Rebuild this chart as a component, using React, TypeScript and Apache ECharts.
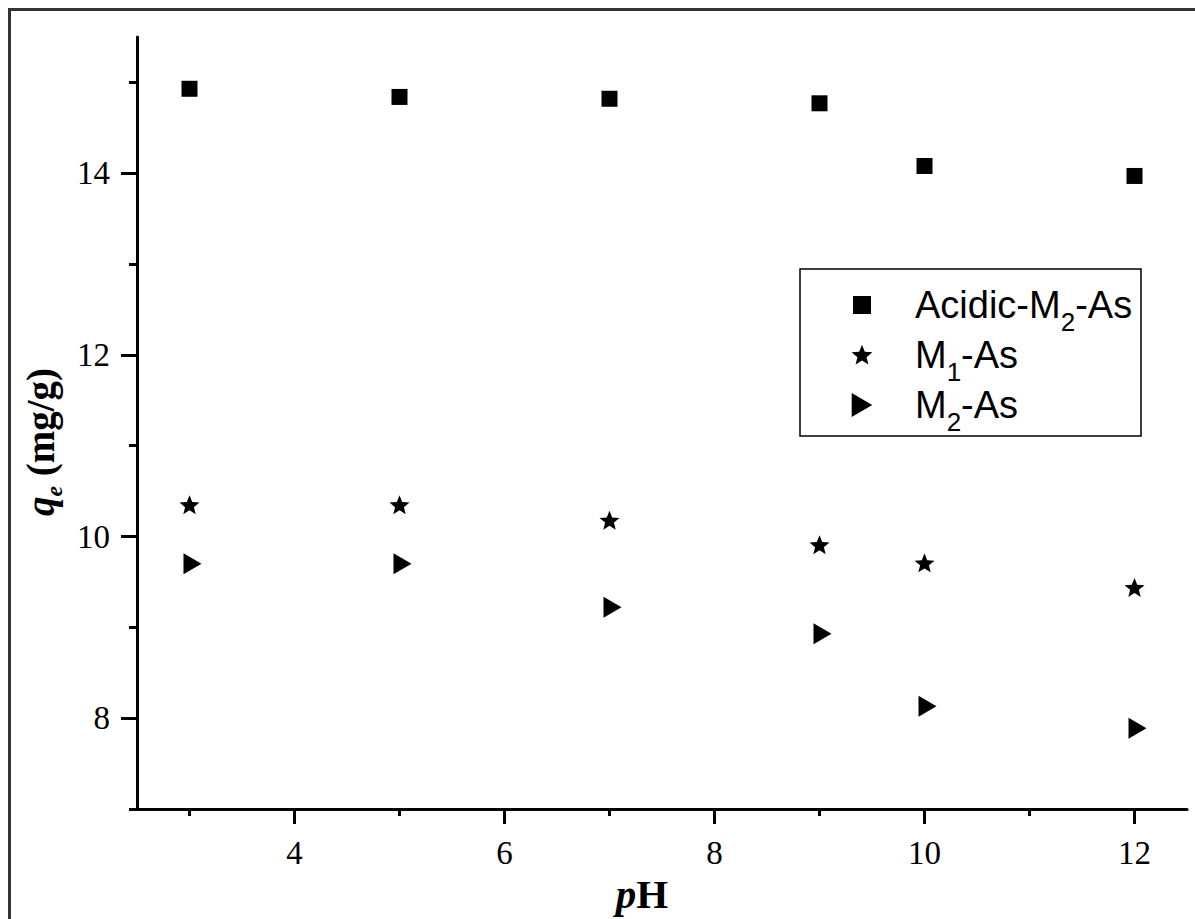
import React, { useEffect, useRef } from "react";
import * as echarts from "echarts";

const phValues = [3, 5, 7, 9, 10, 12];
const acidicM2As = [14.93, 14.84, 14.82, 14.77, 14.08, 13.97];
const m1As = [10.35, 10.35, 10.18, 9.91, 9.71, 9.44];
const m2As = [9.7, 9.7, 9.22, 8.93, 8.13, 7.89];
const seriesNames = ["Acidic-M2-As", "M1-As", "M2-As"];
const xMajorTicks = [4, 6, 8, 10, 12];
const xMinorTicks = [3, 5, 7, 9, 11];
const yMajorTicks = [8, 10, 12, 14];
const yMinorTicks = [7, 9, 11, 13, 15];

const STAR =
  "path://M50,0L62.93,32.2L97.55,34.55L70.92,56.8L79.39,90.45L50,72L20.61,90.45L29.08,56.8L2.45,34.55L37.07,32.2Z";
const TRI = "path://M0,0L18,10.5L0,21Z";
const SQUARE = "path://M0,0L16,0L16,16L0,16Z";
// legend icons: same shapes with invisible move-to points that set their box
const SQUARE_ICON = "path://M-2.67,-2.67M0,0L16,0L16,16L0,16ZM18.67,18.67";
const STAR_ICON =
  "path://M-5,-8M50,0L62.93,32.2L97.55,34.55L70.92,56.8L79.39,90.45L50,72L20.61,90.45L29.08,56.8L2.45,34.55L37.07,32.2ZM105,102";
const TRI_ICON = "path://M0,0L18,10.5L0,21Z";

const legendRich: Record<string, string> = {
  "Acidic-M2-As": "{t|Acidic-M}{s|2}{t|-As}",
  "M1-As": "{t|M}{s|1}{t|-As}",
  "M2-As": "{t|M}{s|2}{t|-As}",
};

const SERIF = "'Liberation Serif', 'Times New Roman', serif";
const SANS = "'Liberation Sans', Arial, sans-serif";

function pairs(xs: number[], ys: number[]) {
  return xs.map((x, i) => [x, ys[i]]);
}

export default function App() {
  const ref = useRef<HTMLDivElement>(null);
  useEffect(() => {
    if (!ref.current) return;
    const chart = echarts.init(ref.current, null, { renderer: "svg" });
    const axisLineStyle = { color: "#000", width: 3 };
    const labelStyle = { fontFamily: SERIF, fontSize: 33, color: "#000" };
    chart.setOption({
      animation: false,
      backgroundColor: "#fff",
      grid: { left: 137, top: 37, right: 8, bottom: 110, containLabel: false, outerBoundsMode: "none" },
      xAxis: [
        {
          type: "value",
          position: "bottom",
          min: 2.5,
          max: 12.5,
          axisLine: { show: true, onZero: false, lineStyle: axisLineStyle },
          axisTick: { show: true, length: 15, customValues: xMajorTicks, lineStyle: axisLineStyle },
          axisLabel: { customValues: xMajorTicks, margin: 27, ...labelStyle },
          splitLine: { show: false },
          name: "{p|p}{h|H}",
          nameLocation: "middle",
          nameGap: 51,
          nameTextStyle: {
            padding: [0, 40, 0, 0],
            rich: {
              p: { fontFamily: SERIF, fontSize: 41, fontWeight: "bold", fontStyle: "italic", color: "#000" },
              h: { fontFamily: SERIF, fontSize: 41, fontWeight: "bold", color: "#000" },
            },
          },
        },
        {
          type: "value",
          position: "bottom",
          min: 2.5,
          max: 12.5,
          axisLine: { show: false, onZero: false },
          axisTick: { show: true, length: 7, customValues: xMinorTicks, lineStyle: axisLineStyle },
          axisLabel: { show: false },
          splitLine: { show: false },
        },
      ],
      yAxis: [
        {
          type: "value",
          position: "left",
          min: 7,
          max: 15.5,
          axisLine: { show: true, onZero: false, lineStyle: axisLineStyle },
          axisTick: { show: true, length: 16, customValues: yMajorTicks, lineStyle: axisLineStyle },
          axisLabel: { customValues: yMajorTicks, margin: 27, ...labelStyle },
          splitLine: { show: false },
          name: "{q|q}{e|e}{n| (mg/g)}",
          nameLocation: "middle",
          nameRotate: 90,
          nameGap: 72,
          nameTextStyle: {
            padding: [0, 38, 0, 0],
            rich: {
              q: { fontFamily: SERIF, fontSize: 39, fontWeight: "bold", fontStyle: "italic", color: "#000", lineHeight: 44 },
              e: { fontFamily: SERIF, fontSize: 24, fontStyle: "italic", fontWeight: "bold", color: "#000", lineHeight: 24, verticalAlign: "top", padding: [24, 0, 0, 0] },
              n: { fontFamily: SERIF, fontSize: 39, fontWeight: "bold", color: "#000", lineHeight: 44 },
            },
          },
        },
        {
          type: "value",
          position: "left",
          min: 7,
          max: 15.5,
          axisLine: { show: false, onZero: false },
          axisTick: { show: true, length: 8, customValues: yMinorTicks, lineStyle: axisLineStyle },
          axisLabel: { show: false },
          splitLine: { show: false },
        },
      ],
      legend: {
        orient: "vertical",
        left: 850,
        top: 285,
        padding: 0,
        itemWidth: 96,
        itemHeight: 24,
        itemGap: 0,
        selectedMode: false,
        data: [
          { name: seriesNames[0], icon: SQUARE_ICON },
          { name: seriesNames[1], icon: STAR_ICON },
          { name: seriesNames[2], icon: TRI_ICON },
        ],
        formatter: (name: string) => legendRich[name] || name,
        itemStyle: { opacity: 1 },
        textStyle: {
          fontFamily: SANS,
          fontSize: 38,
          color: "#000",
          rich: {
            t: { fontFamily: SANS, fontSize: 38, color: "#000", lineHeight: 40 },
            s: { fontFamily: SANS, fontSize: 26, color: "#000", lineHeight: 26, verticalAlign: "top", padding: [24, 0, 0, 0] },
          },
        },
      },
      graphic: [
        { type: "line", shape: { x1: 9.5, y1: 8, x2: 9.5, y2: 919 }, style: { stroke: "#333", lineWidth: 3 }, z: 100 },
        { type: "line", shape: { x1: 8, y1: 9.5, x2: 1195, y2: 9.5 }, style: { stroke: "#333", lineWidth: 3 }, z: 100 },
        { type: "rect", shape: { x: 800, y: 269, width: 341, height: 167 }, style: { stroke: "#000", lineWidth: 1.5, fill: "none" }, z: 1 },
      ],
      series: [
        {
          name: seriesNames[0],
          type: "scatter",
          data: pairs(phValues, acidicM2As),
          symbol: SQUARE,
          symbolSize: 16,
          itemStyle: { color: "#000", opacity: 1 },
        },
        {
          name: seriesNames[1],
          type: "scatter",
          data: pairs(phValues, m1As),
          symbol: STAR,
          symbolSize: [20, 19],
          itemStyle: { color: "#000", opacity: 1 },
        },
        {
          name: seriesNames[2],
          type: "scatter",
          data: pairs(phValues, m2As),
          symbol: TRI,
          symbolSize: [18, 21],
          symbolOffset: [3, 0],
          itemStyle: { color: "#000", opacity: 1 },
        },
      ],
    });
    return () => chart.dispose();
  }, []);
  return (
    <div
      ref={ref}
      style={{ position: "absolute", left: 0, top: 0, width: 1195, height: 919, overflow: "hidden" }}
    />
  );
}
